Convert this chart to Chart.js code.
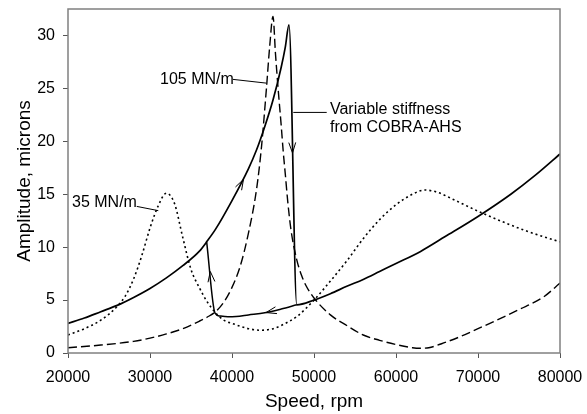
<!DOCTYPE html>
<html>
<head>
<meta charset="utf-8">
<script src="https://cdn.jsdelivr.net/npm/chart.js@4.4.0/dist/chart.umd.min.js"></script>
<style>
  body { margin: 0; background: #fff; }
  #wrap { width: 587px; height: 414px; }
</style>
</head>
<body>
<div id="wrap"><canvas id="amp" width="587" height="414"></canvas></div>
<script>
// Rotor amplitude vs speed: two fixed bearing stiffnesses and the variable one

const soft35Speed = [20000, 22000, 24000, 26000, 27000, 28000, 29000, 30000, 31000, 32000, 33000, 34000, 35000, 36000, 37000, 38000, 39000, 40000, 42000, 43500, 45000, 47000, 48000, 50000, 52000, 54000, 56000, 58000, 60000, 62000, 63500, 65000, 67000, 70000, 73000, 76000, 80000]
const soft35Amp = [1.7, 2.3, 3.1, 4.4, 5.4, 7.0, 9.2, 11.8, 13.9, 15.1, 14.1, 10.9, 7.9, 6.2, 4.8, 3.8, 3.1, 2.8, 2.3, 2.15, 2.3, 3.0, 3.5, 5.0, 6.8, 8.7, 10.8, 12.6, 14.0, 15.0, 15.4, 15.2, 14.5, 13.4, 12.4, 11.5, 10.5]

const stiff105Speed = [20000, 24000, 28000, 30000, 32000, 34000, 36000, 37000, 38000, 39000, 40000, 41000, 42000, 43000, 43600, 44200, 44600, 45000, 45300, 45600, 46000, 46250, 46500, 46800, 47200, 47900, 48500, 49000, 50000, 52000, 54000, 56000, 58000, 60000, 62000, 63000, 64000, 66000, 68000, 70000, 72000, 75000, 78000, 80000]
const stiff105Amp = [0.5, 0.75, 1.1, 1.4, 1.8, 2.3, 3.0, 3.4, 3.9, 4.8, 6.2, 8.2, 11.3, 15.5, 19.5, 25.0, 29.0, 31.8, 28.3, 25.2, 21.5, 19.0, 16.9, 14.3, 11.6, 8.8, 7.3, 6.4, 5.2, 3.6, 2.6, 1.7, 1.2, 0.8, 0.5, 0.45, 0.5, 1.0, 1.6, 2.3, 3.0, 4.1, 5.3, 6.6]

// variable stiffness, run-up: upper branch, jump down at ~47000 rpm, then on to 80000
const varUpSpeed = [20000, 22000, 24000, 26000, 28000, 30000, 32000, 34000, 36000, 37000, 38000, 40000, 42000, 43000, 44000, 45000, 46000, 46500, 46950, 47900, 50000, 52000, 54000, 56000, 58000, 60000, 63000, 66000, 70000, 74000, 77000, 80000]
const varUpAmp = [2.8, 3.3, 3.9, 4.5, 5.25, 6.1, 7.1, 8.25, 9.6, 10.6, 11.7, 14.4, 17.4, 19.2, 21.4, 23.9, 27.0, 28.9, 31.0, 4.55, 5.0, 5.6, 6.3, 6.95, 7.7, 8.45, 9.6, 11.0, 12.9, 15.0, 16.8, 18.8]

// variable stiffness, run-down: lower branch back to ~38000 rpm, then jump up
const varDownSpeed = [36910, 37930, 38500, 39500, 40500, 42000, 44000, 46000, 47900]
const varDownAmp = [10.5, 3.77, 3.5, 3.42, 3.45, 3.6, 3.8, 4.15, 4.55]

const xTicks = [20000, 30000, 40000, 50000, 60000, 70000, 80000]
const yTicks = [0, 5, 10, 15, 20, 25, 30]

// arrowheads: tail speed, tail amp, tip speed, tip amp
const arrows = [
  [40500, 15.1, 41400, 16.4],
  [37930, 3.77, 37350, 7.7],
  [46000, 4.15, 44150, 3.82],
  [46950, 31.0, 47380, 18.9]
]

// labels with leader lines
const notes = [
  { lines: ['105 MN/m'], at: [31220, 25.85], lead: [40120, 25.85, 44150, 25.5] },
  { lines: ['Variable stiffness', 'from COBRA-AHS'], at: [51950, 23.0], lead: [47475, 22.73, 51550, 22.73] },
  { lines: ['35 MN/m'], at: [20490, 14.2], lead: [28380, 13.85, 31010, 13.45] }
]

const pts = (xs, ys) => xs.map((x, i) => ({ x: x, y: ys[i] }))
const FONT = 'Liberation Sans, Arial, sans-serif'

const extras = {
  id: 'extras',
  afterDatasetsDraw(chart) {
    const { ctx, chartArea: a, scales: { x, y } } = chart
    ctx.save()
    // frame
    ctx.strokeStyle = '#808080'
    ctx.lineWidth = 1.5
    ctx.strokeRect(a.left, a.top, a.right - a.left, a.bottom - a.top)

    ctx.strokeStyle = '#000'
    ctx.lineWidth = 1
    arrows.forEach(([sx, sy, tx, ty]) => {
      const x0 = x.getPixelForValue(sx), y0 = y.getPixelForValue(sy)
      const x1 = x.getPixelForValue(tx), y1 = y.getPixelForValue(ty)
      const ang = Math.atan2(y1 - y0, x1 - x0)
      const len = 11, spread = 0.32
      ctx.beginPath()
      ctx.moveTo(x1 - len * Math.cos(ang - spread), y1 - len * Math.sin(ang - spread))
      ctx.lineTo(x1, y1)
      ctx.lineTo(x1 - len * Math.cos(ang + spread), y1 - len * Math.sin(ang + spread))
      ctx.stroke()
    })

    ctx.font = '16px ' + FONT
    ctx.fillStyle = '#000'
    ctx.textAlign = 'left'
    ctx.textBaseline = 'middle'
    notes.forEach(n => {
      const px = x.getPixelForValue(n.at[0]), py = y.getPixelForValue(n.at[1])
      n.lines.forEach((t, i) => ctx.fillText(t, px, py + i * 18.5))
      ctx.beginPath()
      ctx.moveTo(x.getPixelForValue(n.lead[0]), y.getPixelForValue(n.lead[1]))
      ctx.lineTo(x.getPixelForValue(n.lead[2]), y.getPixelForValue(n.lead[3]))
      ctx.stroke()
    })
    ctx.restore()
  }
}

const line = (data, dash, width) => ({
  data: data,
  borderColor: '#000',
  borderWidth: width,
  borderDash: dash,
  pointRadius: 0,
  showLine: true,
  fill: false,
  cubicInterpolationMode: 'monotone'
})

new Chart(document.getElementById('amp').getContext('2d'), {
  type: 'scatter',
  data: {
    datasets: [
      line(pts(soft35Speed, soft35Amp), [2, 3], 1.6),
      line(pts(stiff105Speed, stiff105Amp), [9, 4], 1.4),
      line(pts(varUpSpeed, varUpAmp), [], 1.7),
      line(pts(varDownSpeed, varDownAmp), [], 1.5)
    ]
  },
  options: {
    responsive: false,
    animation: false,
    layout: { padding: { top: 9, right: 27, left: 0, bottom: 0 } },
    plugins: { legend: { display: false }, tooltip: { enabled: false } },
    scales: {
      x: {
        type: 'linear',
        min: 20000,
        max: 80000,
        afterBuildTicks: s => { s.ticks = xTicks.map(v => ({ value: v })) },
        afterFit: s => { s.height = 61; s.paddingLeft = 0; s.paddingRight = 0 },
        ticks: { color: '#000', font: { family: FONT, size: 16 }, padding: 10, maxRotation: 0, callback: v => String(v) },
        grid: { drawOnChartArea: false, tickLength: 5, color: '#555' },
        border: { display: false },
        title: { display: true, text: 'Speed, rpm', color: '#000', font: { family: FONT, size: 19 }, padding: { top: 2, bottom: 1 } }
      },
      y: {
        min: 0,
        max: 32.5,
        afterBuildTicks: s => { s.ticks = yTicks.map(v => ({ value: v })) },
        afterFit: s => { s.width = 68; s.paddingTop = 0; s.paddingBottom = 0 },
        ticks: { color: '#000', font: { family: FONT, size: 16 }, padding: 8 },
        grid: { drawOnChartArea: false, tickLength: 5, color: '#555' },
        border: { display: false },
        title: { display: true, text: 'Amplitude, microns', color: '#000', font: { family: FONT, size: 19 }, padding: { top: 13, bottom: 4 } }
      }
    }
  },
  plugins: [extras]
})
</script>
</body>
</html>
